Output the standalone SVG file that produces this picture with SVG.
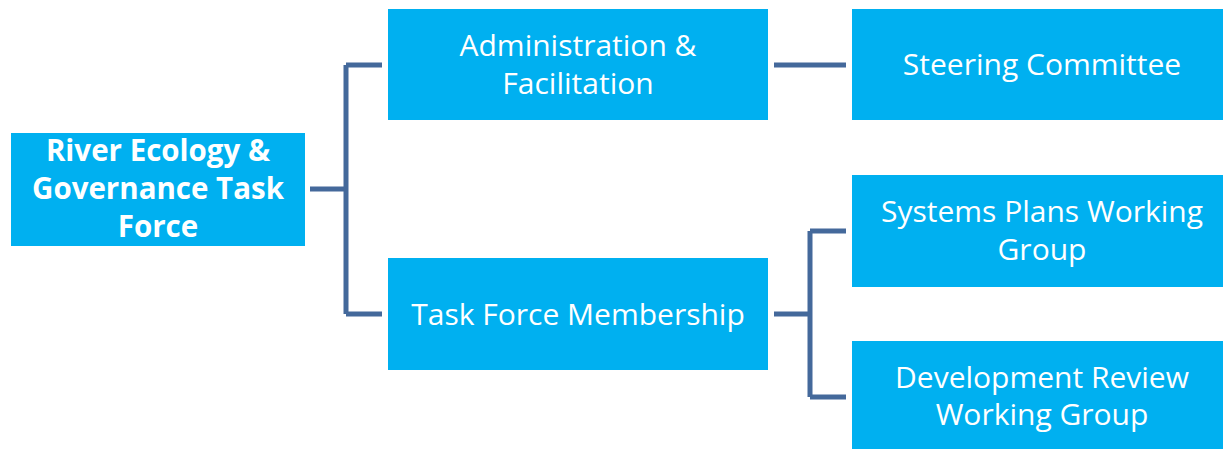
<svg xmlns="http://www.w3.org/2000/svg" width="1223" height="449" viewBox="0 0 1223 449">
<style>
.box{fill:#00B0F0}
.t{font-family:"Open Sans","Liberation Sans",sans-serif;font-size:30px;fill:#fff;text-anchor:middle}
.b{font-weight:bold;font-size:29.5px}
.c{fill:none;stroke:#44699B;stroke-width:5;stroke-linejoin:round}
</style>
<rect width="1223" height="449" fill="#fff"/>
<g id="connectors">
<path class="c" d="M310 189H346M346 65V314M346 65H382M346 314H382"/>
<path class="c" d="M774 65H846"/>
<path class="c" d="M774 314H810M810 231V397M810 231H846M810 397H846"/>
</g>
<g id="root">
<rect class="box" x="11" y="133" width="294" height="113"/>
<text class="t b" x="158" y="161">River Ecology &amp;</text>
<text class="t b" x="158" y="199">Governance Task</text>
<text class="t b" x="158" y="237">Force</text>
</g>
<g id="admin">
<rect class="box" x="388" y="9" width="380" height="111"/>
<text class="t" x="578" y="56">Administration &amp;</text>
<text class="t" x="578" y="94">Facilitation</text>
</g>
<g id="steering">
<rect class="box" x="852" y="9" width="371" height="111"/>
<text class="t" x="1042" y="75">Steering Committee</text>
</g>
<g id="membership">
<rect class="box" x="388" y="258" width="380" height="112"/>
<text class="t" x="578" y="325">Task Force Membership</text>
</g>
<g id="systems">
<rect class="box" x="852" y="175" width="371" height="112"/>
<text class="t" x="1042" y="222">Systems Plans Working</text>
<text class="t" x="1042" y="260">Group</text>
</g>
<g id="development">
<rect class="box" x="852" y="341" width="371" height="108"/>
<text class="t" x="1042" y="388">Development Review</text>
<text class="t" x="1042" y="425">Working Group</text>
</g>
</svg>
